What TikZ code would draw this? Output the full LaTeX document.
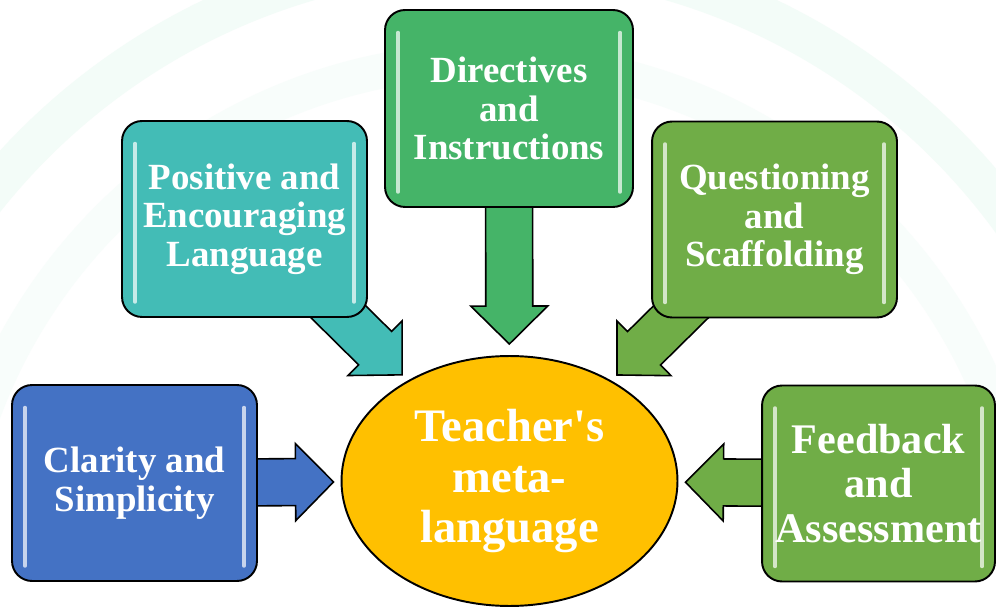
\documentclass[tikz,border=0pt]{standalone}
\usepackage{fontspec}
\setmainfont{Liberation Serif}
\newfontfamily\corefont{Liberation Serif}
\usetikzlibrary{calc,shapes.geometric,backgrounds}

\definecolor{clarblue}{HTML}{4472C4}
\definecolor{posteal}{HTML}{43BCB6}
\definecolor{dirgreen}{HTML}{45B468}
\definecolor{quesgreen}{HTML}{70AD47}
\definecolor{coreamber}{HTML}{FFC000}
\definecolor{mint}{HTML}{F3FCF8}

% block arrow from a topic box towards the core: box, distance of tip from core centre, colour
\newcommand\feedarrow[3]{%
  \coordinate (tip) at ($(core.center)!#2!(#1.center)$);
  \coordinate (base) at ($(tip)!0.76cm!(#1.center)$);
  \filldraw[blockarrow, fill=#3]
    ($(#1.center)!0.47cm!90:(tip)$) -- ($(base)!0.47cm!-90:(#1.center)$)
    -- ($(base)!0.77cm!-90:(#1.center)$) -- (tip)
    -- ($(base)!0.77cm!90:(#1.center)$) -- ($(base)!0.47cm!90:(#1.center)$)
    -- ($(#1.center)!0.47cm!-90:(tip)$) -- cycle;
}

\tikzset{
  topic/.style={draw=black, line width=1.1pt, rounded corners=0.4cm,
    minimum width=4.9cm, minimum height=3.92cm, inner sep=2pt, align=center,
    text=white, font=\fontsize{21}{22}\selectfont\bfseries, shine},
  shine/.style={path picture={
    \draw[white, opacity=.7, line width=2pt, line cap=round]
      ([xshift=.26cm, yshift=-.45cm]path picture bounding box.north west)
        -- ([xshift=.26cm, yshift=.3cm]path picture bounding box.south west)
      ([xshift=-.26cm, yshift=-.45cm]path picture bounding box.north east)
        -- ([xshift=-.26cm, yshift=.3cm]path picture bounding box.south east);}},
  blockarrow/.style={draw=black, line width=0.9pt, line join=miter}
}

\begin{document}
\begin{tikzpicture}[x=0.02cm, y=-0.02cm]
    \useasboundingbox (0,0) rectangle (996,607);

    % topics
    \node[topic, fill=clarblue] (clar) at (134.5,483) {Clarity and\\Simplicity};
    \node[topic, fill=posteal] (pos) at (244.5,219) {Positive and\\Encouraging\\Language};
    \node[topic, fill=dirgreen, minimum width=4.96cm, minimum height=3.94cm] (dir) at (509,108.5) {Directives\\and\\Instructions};
    \node[topic, fill=quesgreen] (ques) at (774.5,219.5) {Questioning\\and\\Scaffolding};
    \node[topic, fill=quesgreen, minimum width=4.66cm, font=\fontsize{24}{25.5}\selectfont\bfseries] (feed) at (878.5,483.5) {Feedback\\and\\Assessment};

    % core
    \node[ellipse, draw=black, line width=1.1pt, fill=coreamber, minimum width=6.72cm, minimum height=5cm,
          inner sep=0pt, align=center, text=white, font=\corefont\fontsize{26.5}{29}\selectfont\bfseries]
          (core) at (509.5,481) {Teacher's\\meta-\\language};

    % watermark
    \begin{scope}[on background layer]
        \fill[white] (0,0) rectangle (996,607);
        \draw[mint, line width=0.8cm] (490,600) circle[radius=12.9cm];
        \draw[mint!60, line width=0.7cm] (490,600) circle[radius=10.8cm];
    \end{scope}

    % arrows into the core
    \begin{scope}[on background layer]
        \feedarrow{clar}{3.52cm}{clarblue}
        \feedarrow{pos}{3.02cm}{posteal}
        \feedarrow{dir}{2.74cm}{dirgreen}
        \feedarrow{ques}{3.02cm}{quesgreen}
        \feedarrow{feed}{3.52cm}{quesgreen}
    \end{scope}

\end{tikzpicture}
\end{document}
